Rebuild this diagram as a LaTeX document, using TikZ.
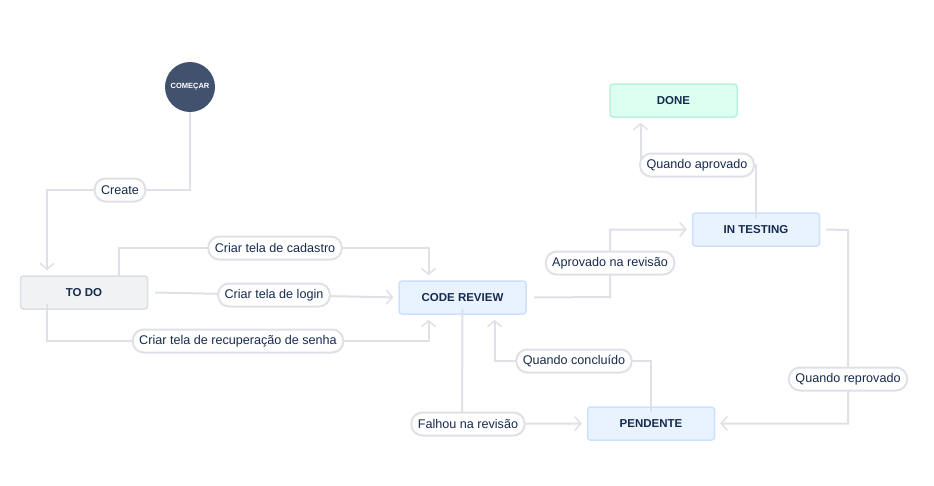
\documentclass[tikz,border=0pt]{standalone}
\usepackage{fontspec}
\setmainfont{Liberation Sans}
\usetikzlibrary{arrows.meta}
\definecolor{lin}{HTML}{DFE1E6}
\definecolor{ink}{HTML}{172B4D}
\definecolor{startc}{HTML}{42526E}
\definecolor{grayf}{HTML}{F1F2F4}
\definecolor{grayd}{HTML}{DCDFE4}
\definecolor{bluef}{HTML}{E9F2FF}
\definecolor{blued}{HTML}{CCE0FF}
\definecolor{greenf}{HTML}{DCFFF1}
\definecolor{greend}{HTML}{BAF3DB}
\tikzset{
  box/.style={rectangle, rounded corners=3pt, minimum width=127pt, minimum height=33pt,
    line width=1.5pt, font=\bfseries\fontsize{11.5}{13}\selectfont, text=ink, inner sep=0pt},
  graybox/.style={box, fill=grayf, draw=grayd},
  bluebox/.style={box, fill=bluef, draw=blued},
  greenbox/.style={box, fill=greenf, draw=greend},
  conn/.style={draw=lin, line width=2pt, -{Straight Barb[length=6pt,width=14pt,line width=1.5pt]}, shorten >=5pt},
  lbl/.style={rectangle, rounded corners=11pt, draw=lin, line width=2pt, fill=white,
    minimum height=23pt, inner xsep=6.5pt, inner ysep=0pt, font=\fontsize{12.6}{14}\selectfont, text=ink}
}
\begin{document}
\begin{tikzpicture}[x=1pt,y=-1pt]
\useasboundingbox (0,0) rectangle (934,485);
\fill[white] (0,0) rectangle (934,485);

% states
\node[circle, fill=startc, minimum size=50pt, inner sep=0pt, text=white,
  font=\bfseries\fontsize{7.5}{9}\selectfont] (start) at (190,87) {COMEÇAR};
\node[graybox] (todo) at (84,292.5) {TO DO};
\node[bluebox] (review) at (462.5,297.5) {CODE REVIEW};
\node[bluebox] (testing) at (756,229.5) {IN TESTING};
\node[greenbox] (done) at (673.5,100.5) {DONE};
\node[bluebox] (pend) at (651,423.5) {PENDENTE};

% connectors
\draw[conn] (start.south) -- (190,190) -| ([xshift=-37pt]todo.north);
\draw[conn] ([xshift=35pt,yshift=-1pt]todo.north) -- (119,248) -| ([xshift=-34pt]review.north);
\draw[conn] ([xshift=7pt]todo.east) -- (review.west);
\draw[conn] ([xshift=-37pt,yshift=6pt]todo.south) -- (47,341) -| ([xshift=-34pt]review.south);
\draw[conn] ([xshift=7pt]review.east) -- (610,297) |- (testing.west);
\draw[conn] ([yshift=-6pt]testing.north) -- (756,165) -| ([xshift=-33pt]done.south);
\draw[conn] ([xshift=6pt]testing.east) -- (848,230) |- (pend.east);
\draw[conn] ([yshift=-6pt]pend.north) -- (651,361) -| ([xshift=32pt]review.south);
\draw[conn] ([yshift=6pt]review.south) -- (462,424) -- (pend.west);

% labels
\node[lbl] (l1) at (120,190) {Create};
\node[lbl] (l2) at (275,248) {Criar tela de cadastro};
\node[lbl] (l3) at (274,295) {Criar tela de login};
\node[lbl] (l4) at (238,341) {Criar tela de recuperação de senha};
\node[lbl] (l5) at (610,263) {Aprovado na revisão};
\node[lbl] (l6) at (697,165) {Quando aprovado};
\node[lbl] (l7) at (848,379) {Quando reprovado};
\node[lbl] (l8) at (574,361) {Quando concluído};
\node[lbl] (l9) at (468,424) {Falhou na revisão};
\end{tikzpicture}
\end{document}
